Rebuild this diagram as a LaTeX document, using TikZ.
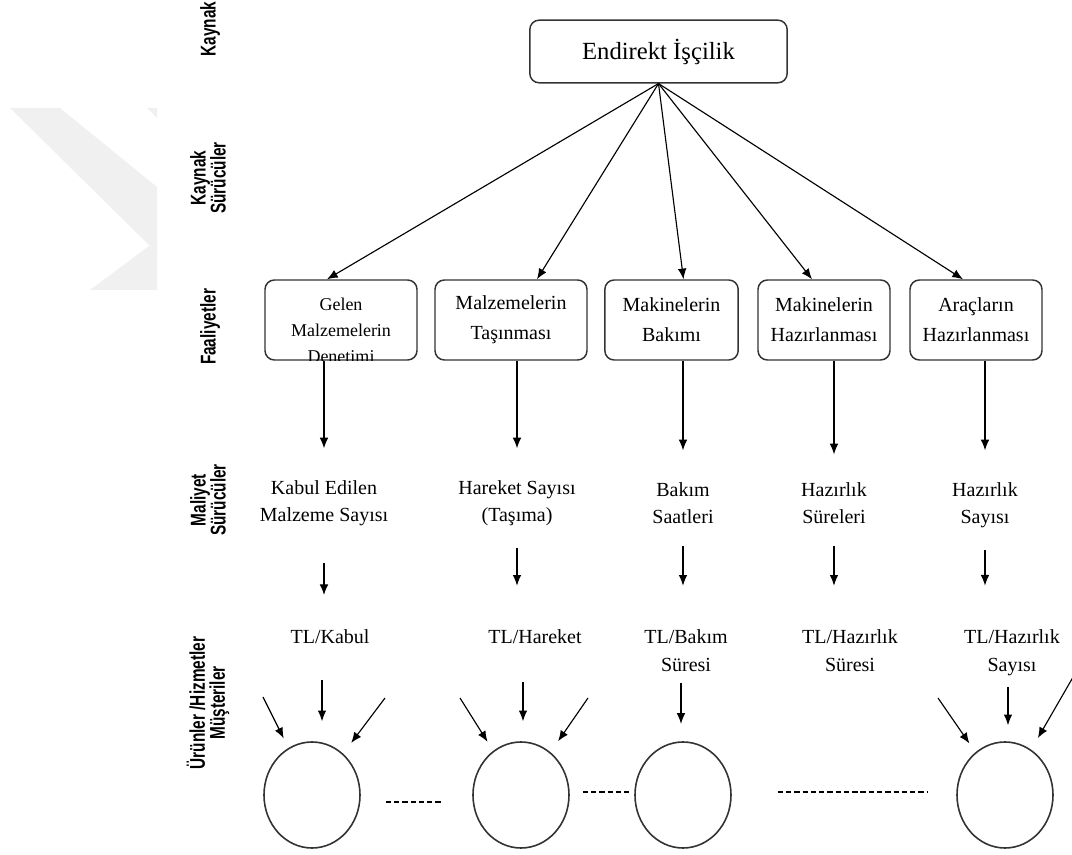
\documentclass[tikz,border=0pt]{standalone}
\usepackage{fontspec}
\setmainfont{Liberation Serif}
\newfontfamily\sidefont[FakeStretch=0.72]{Liberation Sans}
\usetikzlibrary{arrows.meta,shapes.geometric}
\begin{document}
\begin{tikzpicture}[x=0.75pt,y=-0.75pt,>={Latex[length=8pt,width=6.5pt]},
  box/.style={draw=black!80,line width=1.1pt,rounded corners=7pt,minimum height=60pt,inner sep=0pt,align=center,font=\fontsize{15}{22.5}\selectfont},
  txt/.style={inner sep=0pt,align=center,font=\fontsize{15}{20}\selectfont},
  tl/.style={inner sep=0pt,align=center,font=\fontsize{15}{21}\selectfont},
  side/.style={rotate=90,inner sep=0pt,align=center,font=\sidefont\bfseries\fontsize{16}{15}\selectfont},
  unit/.style={draw=black!80,line width=1.2pt,ellipse,minimum width=72pt,minimum height=79.5pt,inner sep=0pt},
  conn/.style={->,line width=0.85pt},
  dots/.style={line width=1.1pt,dash pattern=on 4pt off 2.2pt}]
  \useasboundingbox (0,0) rectangle (1072,855);
  \fill[gray!12] (10,108) -- (60,108) -- (157,187) -- (157,253) -- cycle;
  \fill[gray!12] (147,108) -- (157,108) -- (157,118) -- cycle;
  \fill[gray!12] (90,290) -- (157,290) -- (157,240) -- cycle;

  \node[side] (L1) at (210,29) {Kaynak};
  \node[side] (L2) at (208,178) {Kaynak\\Sürücüler};
  \node[side] (L3) at (210,327) {Faaliyetler};
  \node[side] (L4) at (208,500) {Maliyet\\Sürücüler};
  \node[side] (L5) at (208,703) {Ürünler /Hizmetler\\Müşteriler};

  \node[box,minimum width=193pt,minimum height=47pt,font=\fontsize{18.5}{22}\selectfont] (top) at (658.5,51.5) {Endirekt İşçilik};

  \node[box,minimum width=114pt] (a1) at (341,320) {};
  \begin{scope}
    \clip[rounded corners=7pt] (a1.south west) rectangle (a1.north east);
    \node[txt,anchor=north,font=\fontsize{13.5}{19.5}\selectfont] (a1t) at ([yshift=-14pt]a1.north) {Gelen\\Malzemelerin\\Denetimi};
  \end{scope}
  \node[box,minimum width=114pt] (a2) at (511,320) {Malzemelerin\\Taşınması};
  \node[box,minimum width=100pt] (a3) at (671.5,320) {Makinelerin\\Bakımı};
  \node[box,minimum width=99pt] (a4) at (824,320) {Makinelerin\\Hazırlanması};
  \node[box,minimum width=99pt] (a5) at (976,320) {Araçların\\Hazırlanması};

  \draw[conn] (top.south) -- ([xshift=-10.5pt]a1.north);
  \draw[conn] (top.south) -- ([xshift=19.5pt]a2.north);
  \draw[conn] (top.south) -- ([xshift=9pt]a3.north);
  \draw[conn] (top.south) -- ([xshift=-9pt]a4.north);
  \draw[conn] (top.south) -- ([xshift=-9.75pt]a5.north);

  \node[txt] (d1) at (324,503) {Kabul Edilen\\Malzeme Sayısı};
  \node[txt] (d2) at (517,503) {Hareket Sayısı\\(Taşıma)};
  \node[txt] (d3) at (683,503) {Bakım\\Saatleri};
  \node[txt] (d4) at (834,503) {Hazırlık\\Süreleri};
  \node[txt] (d5) at (985,505) {Hazırlık\\Sayısı};

  \draw[conn,shorten >=24pt] (a1.south -| d1) -- (d1.north);
  \draw[conn,shorten >=24pt] (a2.south -| d2) -- (d2.north);
  \draw[conn,shorten >=24pt] (a3.south -| d3) -- (d3.north);
  \draw[conn,shorten >=21pt] (a4.south -| d4) -- (d4.north);
  \draw[conn,shorten >=24pt] (a5.south -| d5) -- (d5.north);

  \node[tl] (t1) at (330,637) {TL/Kabul};
  \node[tl] (t2) at (535,637) {TL/Hareket};
  \node[tl] (t3) at (686,651) {TL/Bakım\\Süresi};
  \node[tl] (t4) at (850,651) {TL/Hazırlık\\Süresi};
  \node[tl] (t5) at (1012,653) {TL/Hazırlık\\Sayısı};

  \draw[conn,shorten <=28pt,shorten >=26pt] (d1.south) -- (d1.south |- t1.north);
  \draw[conn,shorten <=17pt,shorten >=33pt] (d2.south) -- (d2.south |- t2.north);
  \draw[conn,shorten <=17pt,shorten >=33pt] (d3.south) -- (d3.south |- t3.north);
  \draw[conn,shorten <=17pt,shorten >=33pt] (d4.south) -- (d4.south |- t4.north);
  \draw[conn,shorten <=17pt,shorten >=33pt] (d5.south) -- (d5.south |- t5.north);

  \node[unit] (c1) at (312,795) {};
  \node[unit] (c2) at (521,795) {};
  \node[unit] (c3) at (683,795) {};
  \node[unit] (c4) at (1005,795) {};

  \coordinate (k1a) at (263,697);
  \coordinate (k1b) at (322,680);
  \coordinate (k1c) at (385,698);
  \coordinate (k2a) at (460,698);
  \coordinate (k2b) at (523,682);
  \coordinate (k2c) at (588,698);
  \coordinate (k3b) at (681,683);
  \coordinate (k4a) at (938,698);
  \coordinate (k4b) at (1008,687);
  \coordinate (k4c) at (1076,672);

  \draw[conn,shorten >=8pt] (k1a) -- (c1);
  \draw[conn,shorten >=15pt] (k1b) -- (k1b |- c1.north);
  \draw[conn,shorten >=10pt] (k1c) -- (c1);
  \draw[conn,shorten >=8pt] (k2a) -- (c2);
  \draw[conn,shorten >=15pt] (k2b) -- (k2b |- c2.north);
  \draw[conn,shorten >=10pt] (k2c) -- (c2);
  \draw[conn,shorten >=13pt] (k3b) -- (k3b |- c3.north);
  \draw[conn,shorten >=8pt] (k4a) -- (c4);
  \draw[conn,shorten >=12pt] (k4b) -- (k4b |- c4.north);
  \draw[conn,shorten >=10pt] (k4c) -- (c4);

  \draw[dots] ([shift={(25,7)}]c1.east) -- ([shift={(-30,7)}]c2.west);
  \draw[dots] ([shift={(13,-3)}]c2.east) -- ([shift={(-3,-3)}]c3.west);
  \draw[dots] ([shift={(46,-3)}]c3.east) -- ([shift={(-29,-3)}]c4.west);
\end{tikzpicture}
\end{document}
